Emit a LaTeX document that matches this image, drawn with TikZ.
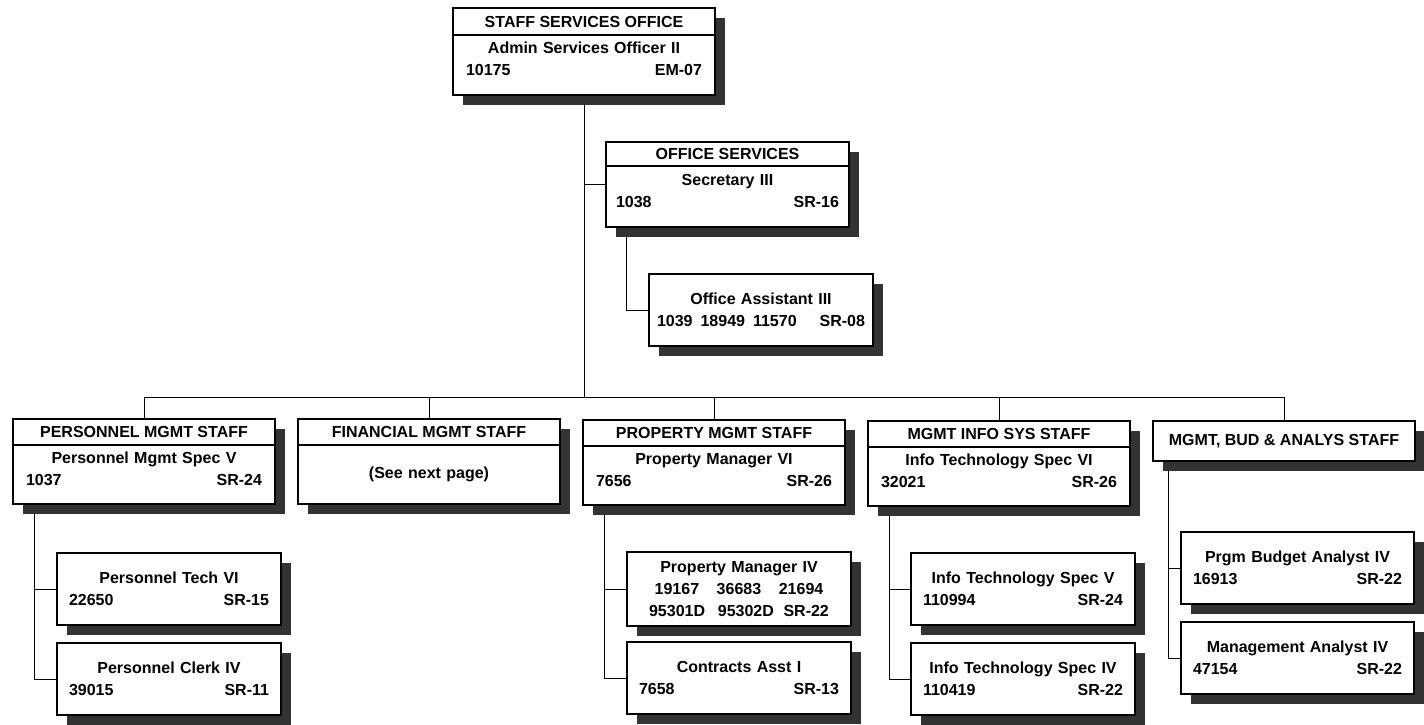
\documentclass[tikz,border=0pt]{standalone}
\usepackage{fontspec}
\setmainfont{Liberation Sans}
\usetikzlibrary{positioning, shadows, backgrounds, calc}

\begin{document}
\begin{tikzpicture}[
        x=1pt, y=1pt,
        font=\fontsize{16}{22}\selectfont\bfseries,
        node distance=18pt and 23pt,
        shadowed/.style={
            draw=black,
            line width=1.6pt,
            fill=white,
            outer sep=0pt,
            drop shadow={shadow xshift=10pt, shadow yshift=-10pt,
                         fill=black!80, opacity=1}
        },
        headbox/.style={
            shadowed,
            minimum width=262pt,
            minimum height=26pt,
            inner sep=0pt
        },
        bodybox/.style={
            shadowed,
            text width=236pt,
            inner xsep=13pt,
            inner ysep=0pt,
            minimum height=59pt,
            align=center
        },
        posbox/.style={
            bodybox,
            execute at end node={\rule[-12pt]{0pt}{0pt}}
        },
        subbox/.style={
            shadowed,
            text width=200pt,
            inner xsep=12pt,
            inner ysep=0pt,
            minimum height=72pt,
            align=center
        },
        link/.style={line width=1.6pt}
    ]

    \useasboundingbox (0,0) rectangle (1424,-725);

    % top of the chart
    \node[headbox, anchor=north west, minimum height=27pt] (sso) at (453,-8) {STAFF SERVICES OFFICE};
    \node[posbox, below=0pt of sso, minimum height=60pt] (ssob) {Admin Services Officer II\\10175\hfill EM-07};

    \node[headbox, anchor=north west, minimum width=243pt, minimum height=24pt] (offsvc) at (606,-142) {OFFICE SERVICES};
    \node[posbox, below=0pt of offsvc, text width=223pt, inner xsep=10pt, minimum height=61pt] (offsvcb) {Secretary III\\1038\hfill SR-16};

    \node[subbox, anchor=north west, text width=208pt, inner xsep=8pt] (offasst)
        at ([shift={(43pt,-47pt)}]offsvcb.south west) {Office Assistant III\\1039\enspace 18949\enspace 11570\hfill SR-08};

    % staff row
    \node[headbox, anchor=north west] (pers) at (13,-419) {PERSONNEL MGMT STAFF};
    \node[headbox, right=of pers] (fin) {FINANCIAL MGMT STAFF};
    \node[headbox, right=of fin, yshift=-1pt] (prop) {PROPERTY MGMT STAFF};
    \node[headbox, right=of prop, yshift=-1pt] (mis) {MGMT INFO SYS STAFF};
    \node[headbox, right=of mis, yshift=-7pt, minimum height=40pt] (mba) {MGMT, BUD \& ANALYS STAFF};

    \node[posbox, below=0pt of pers] (persb) {Personnel Mgmt Spec V\\1037\hfill SR-24};
    \node[bodybox, below=0pt of fin] (finb) {(See next page)};
    \node[posbox, below=0pt of prop] (propb) {Property Manager VI\\7656\hfill SR-26};
    \node[posbox, below=0pt of mis] (misb) {Info Technology Spec VI\\32021\hfill SR-26};

    % positions under each staff
    \node[subbox, anchor=north west] (perstech) at ([shift={(44pt,-49pt)}]persb.south west) {Personnel Tech VI\\22650\hfill SR-15};
    \node[subbox, below=of perstech] (persclerk) {Personnel Clerk IV\\39015\hfill SR-11};

    \node[subbox, anchor=north west, minimum height=74pt] (propmgr) at ([shift={(44pt,-47pt)}]propb.south west)
        {Property Manager IV\\19167\hspace{1.1em}36683\hspace{1.1em}21694\\95301D\hspace{0.8em}95302D\hspace{0.6em}SR-22};
    \node[subbox, below=16pt of propmgr] (contracts) {Contracts Asst I\\7658\hfill SR-13};

    \node[subbox, anchor=north west] (itspecv) at ([shift={(43pt,-47pt)}]misb.south west) {Info Technology Spec V\\110994\hfill SR-24};
    \node[subbox, below=of itspecv] (itspeciv) {Info Technology Spec IV\\110419\hfill SR-22};

    \node[subbox, anchor=north west, text width=209pt] (budget) at ([shift={(28pt,-71pt)}]mba.south west) {Prgm Budget Analyst IV\\16913\hfill SR-22};
    \node[subbox, below=of budget, text width=209pt] (mgmtan) {Management Analyst IV\\47154\hfill SR-22};

    \begin{scope}[on background layer, link]
        \coordinate (bus) at (0,-397);
        \coordinate (offmid) at ($(offsvc.north west)!0.5!(offsvcb.south west)$);
        \draw (pers.north |- bus) -- (mba.north |- bus);
        \draw (ssob.south) -- (ssob.south |- bus);
        \foreach \d in {pers, fin, prop, mis, mba}
            \draw (\d.north) -- (\d.north |- bus);
        \draw (offmid -| ssob.south) -- (offmid);
        \draw ([xshift=20pt]offsvcb.south west) |- (offasst.west);
        \foreach \p/\a/\b in {persb/perstech/persclerk, propb/propmgr/contracts, misb/itspecv/itspeciv}{
            \draw ([xshift=21pt]\p.south west) |- (\a.west);
            \draw ([xshift=21pt]\p.south west) |- (\b.west);
        }
        \draw ([xshift=15pt]mba.south west) |- (budget.west);
        \draw ([xshift=15pt]mba.south west) |- (mgmtan.west);
    \end{scope}

\end{tikzpicture}
\end{document}
